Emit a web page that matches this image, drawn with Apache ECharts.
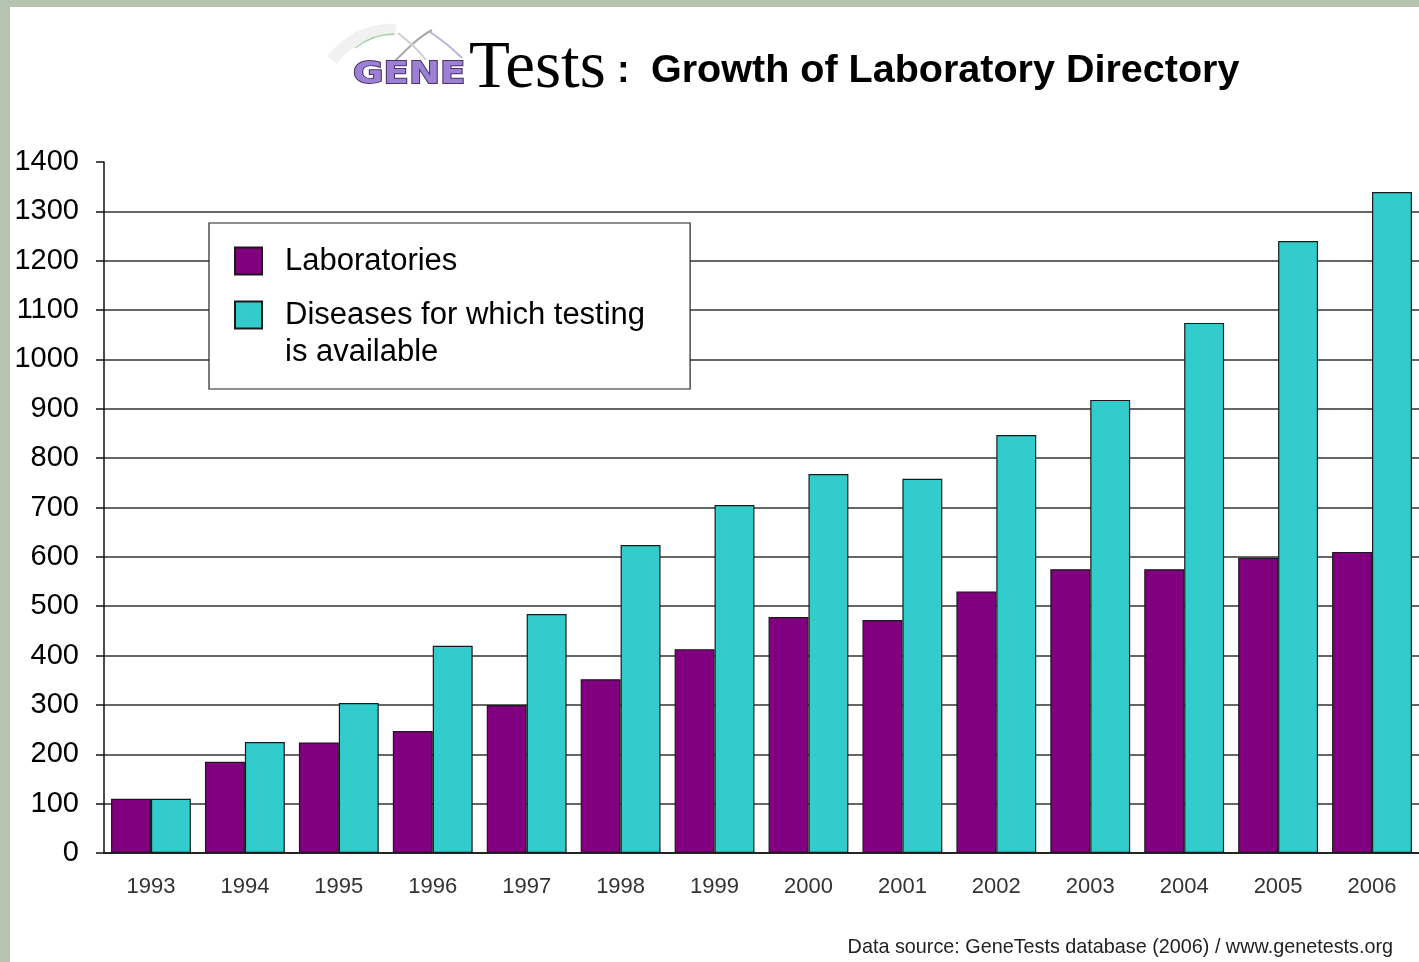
<!DOCTYPE html>
<html>
<head>
<meta charset="utf-8">
<title>GeneTests: Growth of Laboratory Directory</title>
<script src="https://cdn.jsdelivr.net/npm/echarts@6.0.0/dist/echarts.min.js"></script>
<style>
  html, body { margin: 0; padding: 0; background: #fff; }
  #chart { width: 1419px; height: 962px; }
</style>
</head>
<body>
<div id="chart"></div>
<script>
  const years = ['1993', '1994', '1995', '1996', '1997', '1998', '1999',
    '2000', '2001', '2002', '2003', '2004', '2005', '2006'];
  const laboratories = [110, 185, 224, 247, 300, 352, 413, 478, 472, 530, 575, 575, 598, 610];
  const diseases = [110, 225, 304, 420, 484, 624, 705, 768, 758, 847, 918, 1074, 1240, 1339];
  const labName = 'Laboratories';
  const disName = 'Diseases for which testing is available';

  const font = '"Liberation Sans", Arial, sans-serif';
  const chart = echarts.init(document.getElementById('chart'));

  let option = {
    backgroundColor: '#ffffff',
    animation: false,
    textStyle: { fontFamily: font },
    grid: { left: 104, right: 0, top: 162, bottom: 109, containLabel: false },
    legend: {
      orient: 'vertical',
      left: 209,
      top: 223,
      padding: [19.5, 45, 18.5, 25],
      itemGap: -20,
      itemWidth: 27,
      itemHeight: 27,
      icon: 'rect',
      selectedMode: false,
      backgroundColor: '#ffffff',
      borderColor: '#222',
      borderWidth: 1.2,
      borderRadius: 0,
      textStyle: { fontSize: 31, color: '#000', lineHeight: 37, padding: [0, 0, 0, 18], fontFamily: font },
      // empty first line keeps the icon level with the first text line
      formatter: function (name) {
        return name === disName ? '\nDiseases for which testing\nis available' : name;
      },
      data: [labName, disName]
    },
    xAxis: {
      type: 'category',
      data: years,
      axisLine: { lineStyle: { color: '#111', width: 1.5 } },
      axisTick: { length: 8, lineStyle: { color: '#111', width: 1.5 } },
      axisLabel: { fontSize: 22, color: '#333', margin: 23 },
      splitLine: { show: false }
    },
    yAxis: {
      type: 'value',
      min: 0,
      max: 1400,
      interval: 100,
      axisLine: { show: true, lineStyle: { color: '#111', width: 1.5 } },
      axisTick: { show: true, length: 8, lineStyle: { color: '#111', width: 1.5 } },
      axisLabel: { fontSize: 29, color: '#000', margin: 25, formatter: function (v) { return String(v); } },
      splitLine: { show: true, showMaxLine: false, lineStyle: { color: '#333', width: 1.5 } }
    },
    series: [
      {
        name: labName,
        type: 'bar',
        data: laboratories,
        barGap: '0%',
        barCategoryGap: '15%',
        itemStyle: { color: '#800080', borderColor: '#1a1a1a', borderWidth: 1.2 }
      },
      {
        name: disName,
        type: 'bar',
        data: diseases,
        itemStyle: { color: '#33cccc', borderColor: '#1a1a1a', borderWidth: 1.2 }
      }
    ],
    graphic: [
      // frame strips
      { type: 'rect', shape: { x: 0, y: 0, width: 1419, height: 7 }, style: { fill: '#b4c4b0' }, silent: true },
      { type: 'rect', shape: { x: 0, y: 0, width: 10, height: 962 }, style: { fill: '#b4c4b0' }, silent: true },
      // faded helix behind the logo
      { type: 'bezierCurve', shape: { x1: 332, y1: 60, cpx1: 350, cpy1: 38, x2: 396, y2: 30, cpx2: 370, cpy2: 28 },
        style: { stroke: '#f0f0f0', lineWidth: 12, fill: null, opacity: 0.9 }, silent: true },
      { type: 'bezierCurve', shape: { x1: 355, y1: 48, cpx1: 368, cpy1: 38, x2: 394, y2: 34, cpx2: 380, cpy2: 34 },
        style: { stroke: '#a8d0a8', lineWidth: 1.5, fill: null }, silent: true },
      { type: 'bezierCurve', shape: { x1: 392, y1: 64, cpx1: 408, cpy1: 48, x2: 432, y2: 30, cpx2: 420, cpy2: 36 },
        style: { stroke: '#a8a8a8', lineWidth: 2, fill: null }, silent: true },
      { type: 'bezierCurve', shape: { x1: 398, y1: 33, cpx1: 412, cpy1: 44, x2: 426, y2: 60, cpx2: 420, cpy2: 52 },
        style: { stroke: '#d0d0d0', lineWidth: 2, fill: null }, silent: true },
      { type: 'bezierCurve', shape: { x1: 430, y1: 32, cpx1: 442, cpy1: 40, x2: 462, y2: 58, cpx2: 452, cpy2: 48 },
        style: { stroke: '#b4b4e0', lineWidth: 2, fill: null }, silent: true },
      // logo text
      { type: 'text', x: 353, y: 75, scaleX: 1.2,
        style: { text: 'GENE', fontSize: 31, fontWeight: 'bold', fontFamily: '"DejaVu Sans", sans-serif',
          fill: '#9c80d4', stroke: '#4a3468', lineWidth: 1.8, align: 'left', verticalAlign: 'middle' } },
      { type: 'text', x: 469, y: 69,
        style: { text: 'Tests', fontSize: 67, fontFamily: '"Liberation Serif", "Times New Roman", serif',
          fill: '#000', align: 'left', verticalAlign: 'middle' } },
      { type: 'text', x: 617, y: 72,
        style: { text: ':', fontSize: 38, fontWeight: 'bold', fontFamily: font, fill: '#000',
          align: 'left', verticalAlign: 'middle' } },
      { type: 'text', x: 651, y: 72, scaleX: 1.04,
        style: { text: 'Growth of Laboratory Directory', fontSize: 38, fontWeight: 'bold', fontFamily: font,
          fill: '#000', align: 'left', verticalAlign: 'middle' } },
      // footer
      { type: 'text', x: 1393, y: 948,
        style: { text: 'Data source: GeneTests database (2006) / www.genetests.org', fontSize: 19.8,
          fontFamily: font, fill: '#222', align: 'right', verticalAlign: 'middle' } }
    ]
  };
  chart.setOption(option);
</script>
</body>
</html>
